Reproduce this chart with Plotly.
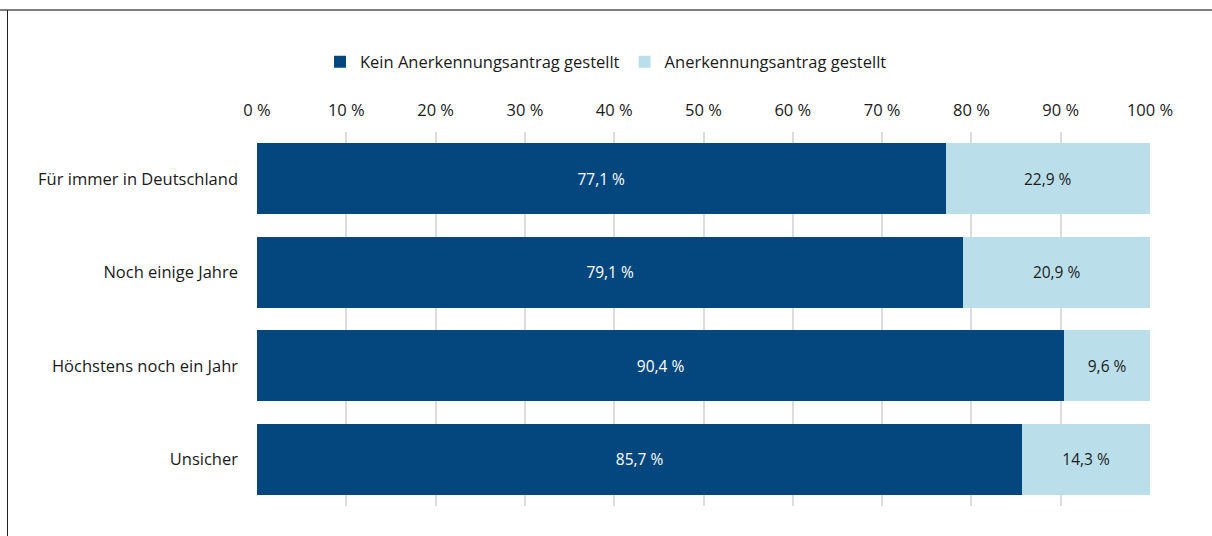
import plotly.graph_objects as go

categories = ['Für immer in Deutschland', 'Noch einige Jahre', 'Höchstens noch ein Jahr', 'Unsicher']
kein_antrag = [77.1, 79.1, 90.4, 85.7]
antrag = [22.9, 20.9, 9.6, 14.3]
tick_vals = [0, 10, 20, 30, 40, 50, 60, 70, 80, 90, 100]
tick_text = [f'{v} %' for v in tick_vals]

dark = '#04477f'
light = '#bbdfea'
font = 'Open Sans'

def lbl(vals):
    return [f'{v:.1f}'.replace('.', ',') + ' %' for v in vals]

fig = go.Figure()
fig.add_trace(go.Bar(
    y=categories, x=kein_antrag, orientation='h', name='Kein Anerkennungsantrag gestellt',
    marker=dict(color=dark, line=dict(width=0)),
    text=lbl(kein_antrag), textposition='inside', insidetextanchor='middle',
    textfont=dict(color='white', size=15.5, family=font), hoverinfo='skip'))
fig.add_trace(go.Bar(
    y=categories, x=antrag, orientation='h', name='Anerkennungsantrag gestellt',
    marker=dict(color=light, line=dict(width=0)),
    text=lbl(antrag), textposition='inside', insidetextanchor='middle',
    textfont=dict(color='#1a1a1a', size=15.5, family=font), hoverinfo='skip'))

# frame: grey line on top, thin line on the left
W, H = 1212, 536
l, r, t, b = 257, 62, 132, 30
pw, ph = W - l - r, H - t - b
def px(x): return (x - l) / pw
def py(y): return (H - b - y) / ph
fig.add_shape(type='line', xref='paper', yref='paper', x0=px(0), x1=px(W), y0=py(10), y1=py(10),
              line=dict(color='#808080', width=2))
fig.add_shape(type='line', xref='paper', yref='paper', x0=px(7.5), x1=px(7.5), y0=py(10), y1=py(H),
              line=dict(color='#222222', width=1))

fig.update_layout(
    barmode='stack', bargap=0.24,
    width=W, height=H,
    margin=dict(l=l, r=r, t=t, b=b),
    paper_bgcolor='white', plot_bgcolor='white',
    font=dict(family=font, size=16, color='#1a1a1a'),
    showlegend=True,
    legend=dict(orientation='h', x=px(320), xanchor='left', y=py(62), yanchor='middle',
                font=dict(size=16.5, family=font), itemwidth=30, traceorder='normal'),
    xaxis=dict(side='top', range=[0, 100], tickvals=tick_vals, ticktext=tick_text,
               showgrid=True, gridcolor='#dcdcdc', gridwidth=2, zeroline=False,
               showline=False, ticks='', tickfont=dict(size=16.5), ticklabelstandoff=12,
               fixedrange=True),
    yaxis=dict(autorange='reversed', showgrid=False, showline=False, ticks='',
               tickfont=dict(size=16.5), ticklabelstandoff=18, fixedrange=True),
)
fig.write_html('out.html', config={'displayModeBar': False},
               post_script="document.body.style.margin='0px';")
